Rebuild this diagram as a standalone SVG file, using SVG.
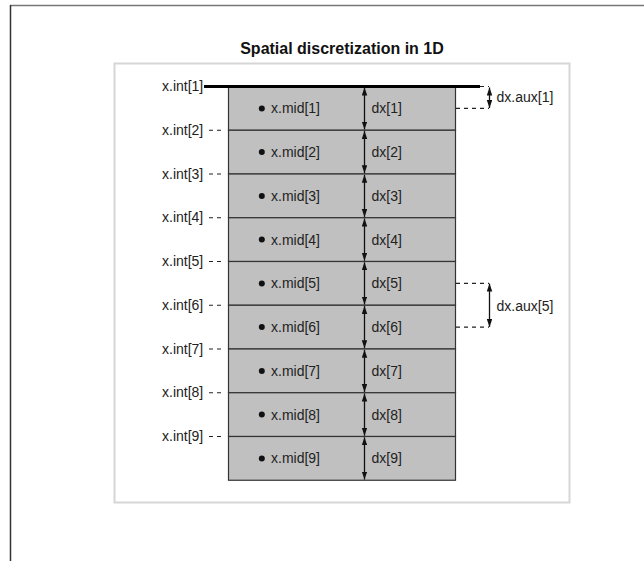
<svg xmlns="http://www.w3.org/2000/svg" width="644" height="561" viewBox="0 0 644 561">
  <defs>
    <marker id="ah" markerUnits="userSpaceOnUse" markerWidth="9" markerHeight="6" refX="8" refY="2.75" orient="auto-start-reverse">
      <path d="M0,0 L8,2.75 L0,5.5 z" fill="#111"/>
    </marker>
    <style>
      text { font-family: "Liberation Sans", Arial, sans-serif; font-size: 14px; fill: #222; }
      .title { font-size: 16px; font-weight: bold; fill: #111; }
      .cell { fill: #c0c0c0; stroke: #333; stroke-width: 1.2; }
      .dash { stroke: #222; stroke-width: 1.2; stroke-dasharray: 4 4; fill: none; }
      .arr { stroke: #111; stroke-width: 1.3; marker-start: url(#ah); marker-end: url(#ah); }
      .dot { fill: #111; }
    </style>
  </defs>
  <rect width="644" height="561" fill="#fff"/>
  <!-- outer frame -->
  <line x1="10" y1="5.5" x2="644" y2="5.5" stroke="#777" stroke-width="1.5"/>
  <line x1="10.5" y1="5" x2="10.5" y2="561" stroke="#333" stroke-width="1.5"/>
  <!-- inner panel -->
  <rect x="114.5" y="63.5" width="455" height="439" fill="#fff" stroke="#d6d6d6" stroke-width="2"/>
  <text class="title" x="342" y="54" text-anchor="middle">Spatial discretization in 1D</text>

  <g id="cell1"><rect class="cell" x="228.5" y="86.5" width="227" height="43.75"/><circle class="dot" cx="261.8" cy="108.4" r="3"/><text x="271" y="113.4">x.mid[1]</text><text x="371.5" y="113.4">dx[1]</text></g>
  <g id="cell2"><rect class="cell" x="228.5" y="130.25" width="227" height="43.75"/><circle class="dot" cx="261.8" cy="152.1" r="3"/><text x="271" y="157.1">x.mid[2]</text><text x="371.5" y="157.1">dx[2]</text></g>
  <g id="cell3"><rect class="cell" x="228.5" y="174" width="227" height="43.75"/><circle class="dot" cx="261.8" cy="195.9" r="3"/><text x="271" y="200.9">x.mid[3]</text><text x="371.5" y="200.9">dx[3]</text></g>
  <g id="cell4"><rect class="cell" x="228.5" y="217.75" width="227" height="43.75"/><circle class="dot" cx="261.8" cy="239.6" r="3"/><text x="271" y="244.6">x.mid[4]</text><text x="371.5" y="244.6">dx[4]</text></g>
  <g id="cell5"><rect class="cell" x="228.5" y="261.5" width="227" height="43.75"/><circle class="dot" cx="261.8" cy="283.4" r="3"/><text x="271" y="288.4">x.mid[5]</text><text x="371.5" y="288.4">dx[5]</text></g>
  <g id="cell6"><rect class="cell" x="228.5" y="305.25" width="227" height="43.75"/><circle class="dot" cx="261.8" cy="327.1" r="3"/><text x="271" y="332.1">x.mid[6]</text><text x="371.5" y="332.1">dx[6]</text></g>
  <g id="cell7"><rect class="cell" x="228.5" y="349" width="227" height="43.75"/><circle class="dot" cx="261.8" cy="370.9" r="3"/><text x="271" y="375.9">x.mid[7]</text><text x="371.5" y="375.9">dx[7]</text></g>
  <g id="cell8"><rect class="cell" x="228.5" y="392.75" width="227" height="43.75"/><circle class="dot" cx="261.8" cy="414.6" r="3"/><text x="271" y="419.6">x.mid[8]</text><text x="371.5" y="419.6">dx[8]</text></g>
  <g id="cell9"><rect class="cell" x="228.5" y="436.5" width="227" height="43.75"/><circle class="dot" cx="261.8" cy="458.4" r="3"/><text x="271" y="463.4">x.mid[9]</text><text x="371.5" y="463.4">dx[9]</text></g>

  <g id="interfaces">
    <line x1="204" y1="86.5" x2="480" y2="86.5" stroke="#000" stroke-width="3"/>
    <text x="162" y="91">x.int[1]</text>
    <text x="162" y="134.8">x.int[2]</text>
    <text x="162" y="178.5">x.int[3]</text>
    <text x="162" y="222.3">x.int[4]</text>
    <text x="162" y="266">x.int[5]</text>
    <text x="162" y="309.8">x.int[6]</text>
    <text x="162" y="353.5">x.int[7]</text>
    <text x="162" y="397.3">x.int[8]</text>
    <text x="162" y="441">x.int[9]</text>
    <path class="dash" d="M209,130.25H224M209,174H224M209,217.75H224M209,261.5H224M209,305.25H224M209,349H224M209,392.75H224M209,436.5H224"/>
  </g>

  <g id="connectors">
    <line class="arr" x1="364.5" y1="87.5" x2="364.5" y2="129.5"/>
    <line class="arr" x1="364.5" y1="131" x2="364.5" y2="173.2"/>
    <line class="arr" x1="364.5" y1="174.8" x2="364.5" y2="217"/>
    <line class="arr" x1="364.5" y1="218.5" x2="364.5" y2="260.7"/>
    <line class="arr" x1="364.5" y1="262.3" x2="364.5" y2="304.5"/>
    <line class="arr" x1="364.5" y1="306" x2="364.5" y2="348.2"/>
    <line class="arr" x1="364.5" y1="349.8" x2="364.5" y2="392"/>
    <line class="arr" x1="364.5" y1="393.5" x2="364.5" y2="435.7"/>
    <line class="arr" x1="364.5" y1="437.3" x2="364.5" y2="479.5"/>
    <!-- dx.aux[1] -->
    <path class="dash" d="M480,86.5H489M456,108.4H489"/>
    <line class="arr" x1="489.5" y1="87.5" x2="489.5" y2="108"/>
    <!-- dx.aux[5] -->
    <path class="dash" d="M456,283.4H489M456,327.1H489"/>
    <line class="arr" x1="489.5" y1="283.6" x2="489.5" y2="326.9"/>
  </g>
  <g id="aux-labels">
    <text x="496.5" y="102">dx.aux[1]</text>
    <text x="496.5" y="310.5">dx.aux[5]</text>
  </g>
</svg>
